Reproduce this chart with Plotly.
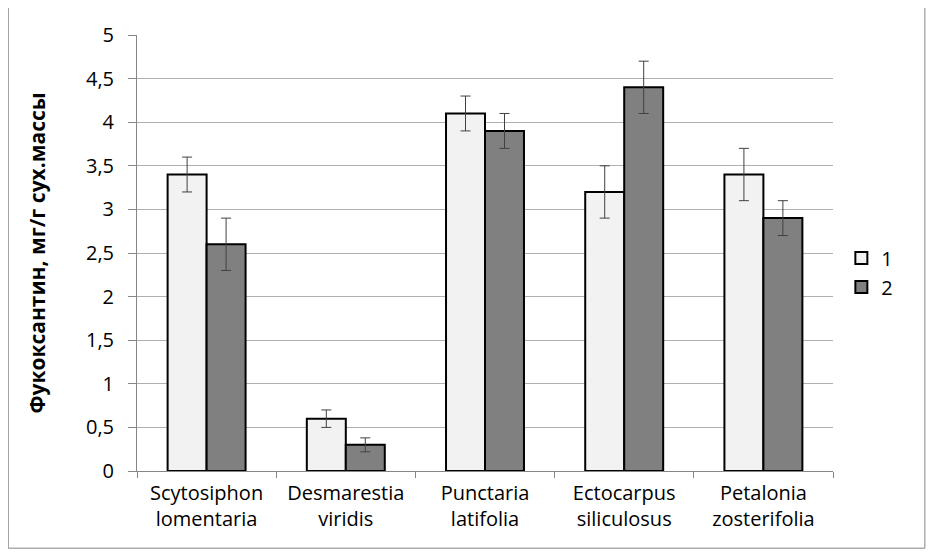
import plotly.graph_objects as go

categories = ["Scytosiphon<br>lomentaria", "Desmarestia<br>viridis", "Punctaria<br>latifolia",
              "Ectocarpus<br>siliculosus", "Petalonia<br>zosterifolia"]
series1 = [3.4, 0.6, 4.1, 3.2, 3.4]
err1 = [0.2, 0.1, 0.2, 0.3, 0.3]
series2 = [2.6, 0.3, 3.9, 4.4, 2.9]
err2 = [0.3, 0.08, 0.2, 0.3, 0.2]
y_ticks = [0, 0.5, 1, 1.5, 2, 2.5, 3, 3.5, 4, 4.5, 5]

font_family = "Open Sans, Lato, sans-serif"

fig = go.Figure()
fig.add_trace(go.Bar(
    x=categories, y=series1, name="1",
    marker=dict(color="#f2f2f2", line=dict(color="black", width=2)),
    error_y=dict(type="data", array=err1, color="#404040", thickness=1, width=5),
))
fig.add_trace(go.Bar(
    x=categories, y=series2, name="2",
    marker=dict(color="#808080", line=dict(color="black", width=2)),
    error_y=dict(type="data", array=err2, color="#404040", thickness=1, width=5),
))

fig.update_layout(
    width=934, height=558,
    margin=dict(l=129, r=109, t=27, b=95),
    paper_bgcolor="white", plot_bgcolor="white",
    separators=", ",
    barmode="group", bargap=0.44, bargroupgap=0,
    font=dict(family=font_family, size=20, color="black"),
    showlegend=True,
    legend=dict(x=1.012, y=0.455, yanchor="middle", xanchor="left",
                font=dict(size=20), bgcolor="rgba(0,0,0,0)", tracegroupgap=2,
                itemwidth=30),
    xaxis=dict(showline=True, linecolor="#868686", linewidth=1,
               ticks="outside", tickson="boundaries", ticklen=6, tickcolor="#868686",
               showgrid=False, tickfont=dict(size=20), ticklabelstandoff=4),
    yaxis=dict(range=[0, 5], tickvals=y_ticks, tickformat=".1~f",
               showline=True, linecolor="#868686", linewidth=1,
               ticks="outside", ticklen=8, tickcolor="#868686",
               showgrid=True, gridcolor="#b0b0b0", gridwidth=1,
               zeroline=False, tickfont=dict(size=20), ticklabelstandoff=10,
               title=dict(text="<b>Фукоксантин, мг/г сух.массы</b>",
                          font=dict(size=21, family="Open Sans, sans-serif"),
                          standoff=34)),
    shapes=[dict(type="rect", xref="paper", yref="paper",
                 x0=-0.185, x1=1.132, y0=-0.177, y1=1.064,
                 line=dict(color="#868686", width=1), fillcolor="rgba(0,0,0,0)", layer="below")],
)

fig.write_html("out.html")
